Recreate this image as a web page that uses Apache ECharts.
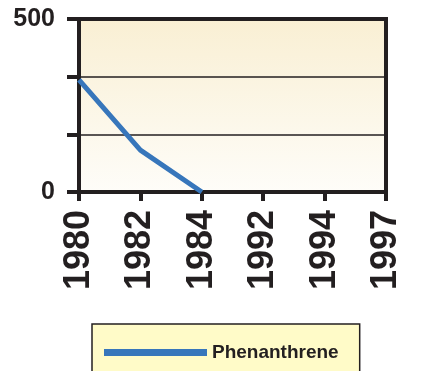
<!DOCTYPE html>
<html><head><meta charset="utf-8">
<script src="https://cdn.jsdelivr.net/npm/echarts@6/dist/echarts.min.js"></script>
<style>html,body{margin:0;padding:0;background:#fff}#c{width:441px;height:371px}</style>
</head><body><div id="c"></div>
<script>
var categories = ['1980','1982','1984','1992','1994','1997'];
var phenanthrene = [324, 121, 0, null, null, null];
var yTicks = [0, 500];
var seriesName = 'Phenanthrene';

var chart = echarts.init(document.getElementById('c'));
var dark = '#231f20';
chart.setOption({
  animation: false,
  grid: {
    left: 79, right: 55, top: 19, bottom: 179,
    show: true,
    borderColor: dark, borderWidth: 4,
    backgroundColor: new echarts.graphic.LinearGradient(0,0,0,1,[
      {offset:0,color:'#f9efd3'},{offset:1,color:'#fefdf9'}])
  },
  legend: {
    data: [seriesName],
    left: 92, top: 324,
    orient: 'horizontal',
    backgroundColor: '#fffbc8',
    borderColor: dark, borderWidth: 1.5, borderRadius: 0,
    padding: [19, 21, 30, 12],
    icon: 'rect', itemWidth: 103, itemHeight: 7,
    textStyle: { fontFamily: 'Liberation Sans, Arial', fontWeight: 'bold', fontSize: 19, color: dark }
  },
  xAxis: {
    type: 'category', data: categories, boundaryGap: false,
    axisLine: { lineStyle: { color: dark, width: 4 } },
    axisTick: { show: true, length: 9, lineStyle: { color: dark, width: 4 }, alignWithLabel: true },
    axisLabel: { rotate: 90, margin: 18, fontFamily: 'Liberation Sans, Arial', fontWeight: 'bold', fontSize: 36, color: dark, interval: 0 },
    splitLine: { show: false }
  },
  yAxis: {
    type: 'value', min: 0, max: 500, interval: 500/3,
    axisLine: { show: true, lineStyle: { color: dark, width: 4 } },
    axisTick: { show: true, length: 12, lineStyle: { color: dark, width: 4 } },
    axisLabel: {
      margin: 24, fontFamily: 'Liberation Sans, Arial', fontWeight: 'bold', fontSize: 25, color: dark,
      formatter: function (v) { return yTicks.indexOf(Math.round(v)) >= 0 && Math.abs(v - Math.round(v)) < 1e-6 ? String(Math.round(v)) : ''; }
    },
    splitLine: { show: true, lineStyle: { color: dark, width: 1.5 } }
  },
  series: [{
    name: seriesName, type: 'line', data: phenanthrene,
    symbol: 'none', connectNulls: false,
    lineStyle: { color: '#3776bb', width: 5 },
    itemStyle: { color: '#3776bb' }
  }]
});
</script></body></html>
